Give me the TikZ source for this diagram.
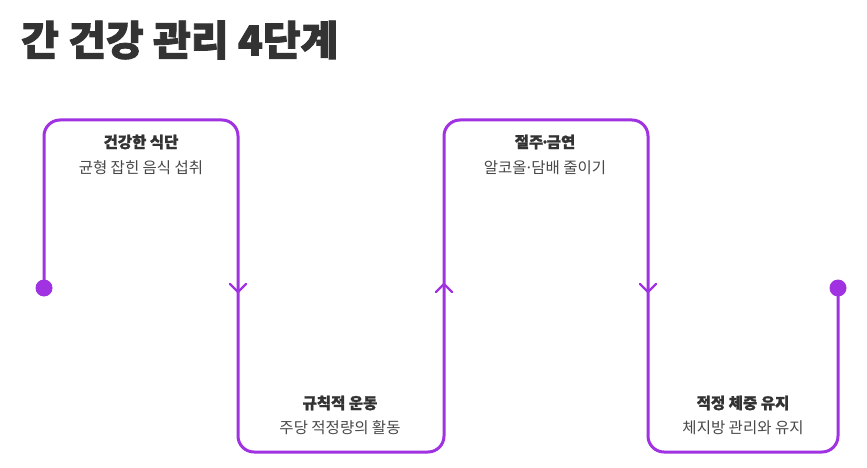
\documentclass[tikz,border=0pt]{standalone}
\usepackage{fontspec}
\setmainfont{Noto Sans CJK KR}
\newfontfamily\heavy{Noto Sans CJK KR}[BoldFeatures={FakeBold=1.2}]
\newfontfamily\heavier{Noto Sans CJK KR}[BoldFeatures={FakeBold=2.2}]
\definecolor{violet}{RGB}{160,50,225}
\definecolor{ink}{RGB}{51,51,51}
\definecolor{subink}{RGB}{72,72,72}
\newcommand{\tightdot}[1]{\kern-#1·\kern-#1}
\tikzset{
  flow/.style={draw=violet, line width=3pt, rounded corners=16pt, line cap=round},
  chev/.style={draw=violet, line width=2.2pt, line cap=round, line join=miter},
  dotend/.style={fill=violet},
  head/.style={text=ink, font=\fontsize{15.5}{18}\selectfont\heavy\bfseries, anchor=center, inner sep=0pt},
  subt/.style={text=subink, font=\fontsize{15.5}{18}\selectfont, anchor=center, inner sep=0pt},
  title/.style={text=ink, font=\fontsize{41}{46}\selectfont\heavier\bfseries, anchor=west, inner sep=0pt}
}
\begin{document}
\begin{tikzpicture}[x=1pt,y=-1pt]
\useasboundingbox (0,0) rectangle (867,468);
\node[title] (t) at (21,40) {간 건강 관리 4단계};
% path corners
\coordinate (s) at (44,288);
\coordinate (e) at (838,288);
\draw[flow] (s) -- (44,120) -- (238,120) -- (238,452) -- (444,452) -- (444,120) -- (648,120) -- (648,452) -- (838,452) -- (e);
\fill[dotend] (s) circle (8.5);
\fill[dotend] (e) circle (8.5);
% chevrons
\coordinate (a1) at (238,292);
\coordinate (a2) at (444,284);
\coordinate (a3) at (648,292);
\draw[chev] ([shift={(-8,-8)}]a1) -- (a1) -- ([shift={(8,-8)}]a1);
\draw[chev] ([shift={(-8,8)}]a2) -- (a2) -- ([shift={(8,8)}]a2);
\draw[chev] ([shift={(-8,-8)}]a3) -- (a3) -- ([shift={(8,-8)}]a3);
% labels
\node[head] (h1) at (141,142) {건강한 식단};
\node[subt] (d1) at (141,168) {균형 잡힌 음식 섭취};
\node[head] (h2) at (340,403) {규칙적 운동};
\node[subt] (d2) at (340,428) {주당 적정량의 활동};
\node[head] (h3) at (545,142) {절주\tightdot{3pt}금연};
\node[subt] (d3) at (545,168) {알코올\tightdot{2pt}담배 줄이기};
\node[head] (h4) at (743,403) {적정 체중 유지};
\node[subt] (d4) at (743,428) {체지방 관리와 유지};
\end{tikzpicture}
\end{document}
